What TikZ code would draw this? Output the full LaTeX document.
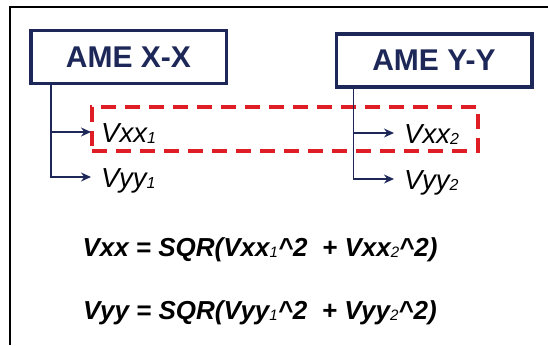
\documentclass[tikz,border=0pt]{standalone}
\usepackage{fontspec}
\setmainfont{Liberation Sans}
\usepackage{xcolor}
\usepackage{graphicx}
\usepackage{tikz}
\usetikzlibrary{arrows.meta, positioning}
\definecolor{amenavy}{RGB}{30, 40, 88}
\definecolor{groupred}{RGB}{222, 30, 36}
\newcommand{\lowidx}[1]{\raisebox{-1pt}{\scalebox{0.58}{\mdseries #1}}}

\begin{document}
\begin{tikzpicture}[
    x=1pt, y=-1pt,
    amebox/.style={rectangle, draw=amenavy, line width=3.5pt, fill=white,
                   minimum width=195.5pt, minimum height=52.5pt,
                   text=amenavy, font=\fontsize{30}{30}\selectfont\bfseries},
    leaf/.style={anchor=west, inner xsep=10pt, inner ysep=0pt,
                 text height=20pt, text depth=0pt,
                 font=\fontsize{27.5}{27.5}\selectfont\itshape},
    arrow/.style={-{Stealth[length=10pt, width=9pt]}, line width=1.5pt, amenavy},
    pairbox/.style={rectangle, draw=groupred, line width=4pt,
                    dash pattern=on 15pt off 9pt,
                    minimum width=386pt, minimum height=44pt},
    formula/.style={inner sep=0pt, text height=19pt, text depth=6pt,
                    font=\fontsize{26}{26}\selectfont\bfseries\itshape}
]
\useasboundingbox (0,0) rectangle (548,345);
\draw[line width=2pt] (10,345) -- (10,7) -- (548,7);

\node[amebox] (amex) at (128.5,57) {AME X-X};
\node[amebox] (amey) at (434,60.5) {AME Y-Y};

\node[pairbox] (vxxpair) at (285,129) {};

\node[leaf] (vxx1) at (91,132) {Vxx\lowidx{1}};
\node[leaf] (vyy1) at (91,177) {Vyy\lowidx{1}};
\node[leaf] (vxx2) at (394,133) {Vxx\lowidx{2}};
\node[leaf] (vyy2) at (394,179) {Vyy\lowidx{2}};

\coordinate (xroot) at ([xshift=22pt]amex.south west);
\coordinate (yroot) at ([xshift=19pt]amey.south west);

\draw[arrow] (xroot) |- (vxx1.west);
\draw[arrow] (xroot) |- (vyy1.west);
\draw[arrow] (yroot) |- (vxx2.west);
\draw[arrow] (yroot) |- (vyy2.west);

\node[formula] (vxxeq) at (260,250)
    {Vxx = SQR(Vxx\lowidx{1}\textasciicircum2~~+ Vxx\lowidx{2}\textasciicircum2)};
\node[formula, below=38pt of vxxeq] (vyyeq)
    {Vyy = SQR(Vyy\lowidx{1}\textasciicircum2~~+ Vyy\lowidx{2}\textasciicircum2)};

\end{tikzpicture}
\end{document}
